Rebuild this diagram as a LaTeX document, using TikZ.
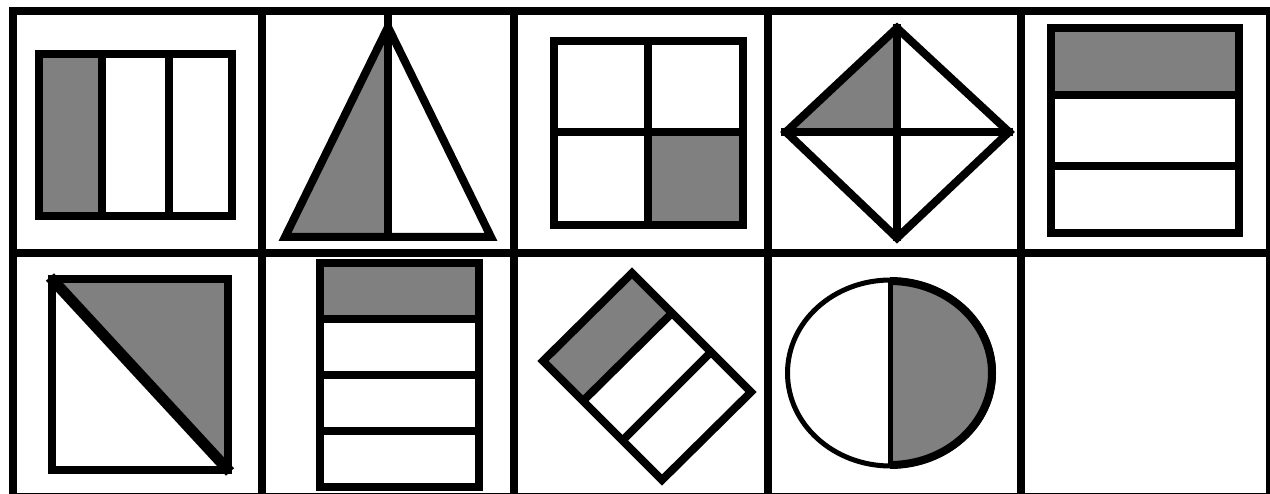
\documentclass[tikz,border=0pt]{standalone}
\begin{document}
\begin{tikzpicture}[x=1pt,y=-1pt,
  gridline/.style={line width=8pt,line cap=rect},
  outl/.style={line width=8pt,line join=miter},
  thinoutl/.style={line width=5pt},
  shade/.style={fill=gray}]
\useasboundingbox[fill=white] (0,0) rectangle (1270,494);
% ---------- row 1 ----------
% cell 1: three vertical strips
\fill[shade] (39,54) rectangle (102,216);
\draw[outl] (39,54) rectangle (232,216);
\draw[outl] (102,54) -- (102,216);
\draw[outl] (169,54) -- (169,216);
% cell 2: triangle split vertically
\fill[shade] (388,27) -- (285,237) -- (388,237) -- cycle;
\draw[outl] (388,27) -- (491,237) -- (285,237) -- cycle;
\draw[outl] (388,15) -- (388,241);
% cell 3: square in quarters
\fill[shade] (648,132) rectangle (743,225);
\draw[outl] (554,41) rectangle (743,225);
\draw[outl] (648,41) -- (648,225);
\draw[outl] (554,132) -- (743,132);
% cell 4: diamond in quarters
\fill[shade] (786,132) -- (897,28) -- (897,132) -- cycle;
\draw[outl] (786,132) -- (897,28) -- (1009,132) -- (897,238) -- cycle;
\draw[outl] (897,24) -- (897,241);
\draw[outl] (781,132) -- (1013,132);
% cell 5: three horizontal strips
\fill[shade] (1051,28) rectangle (1239,95);
\draw[outl] (1051,28) rectangle (1239,233);
\draw[outl] (1051,95) -- (1239,95);
\draw[outl] (1051,166) -- (1239,166);
% ---------- row 2 ----------
% cell 1: rectangle with diagonal
\fill[shade] (52,279) -- (228,279) -- (228,470) -- cycle;
\draw[outl] (52,279) rectangle (228,470);
\draw[line width=11pt] (50,277) -- (230,472);
% cell 2: four horizontal strips
\fill[shade] (320,263) rectangle (479,319);
\draw[outl] (320,263) rectangle (479,487);
\draw[outl] (320,319) -- (479,319);
\draw[outl] (320,375) -- (479,375);
\draw[outl] (320,431) -- (479,431);
% cell 3: tilted rectangle in three strips
\fill[shade] (632,273) -- (543,361) -- (583,401) -- (672,313) -- cycle;
\draw[outl] (632,273) -- (751,392) -- (662,480) -- (543,361) -- cycle;
\draw[outl] (672,313) -- (583,401);
\draw[outl] (711,352) -- (623,440);
% cell 4: ellipse halved
\fill[shade] (890,281) arc[start angle=90,end angle=-90,x radius=102pt,y radius=92pt] -- cycle;
\draw[thinoutl] (890.5,373) ellipse[x radius=103pt,y radius=93pt];
\draw[outl] (890,281) arc[start angle=90,end angle=-90,x radius=102pt,y radius=92pt];
\draw[thinoutl] (890,279) -- (890,467);
% ---------- grid ----------
\draw[gridline] (13,11) rectangle (1270,497);
\draw[gridline] (13,253) -- (1270,253);
\foreach \gx in {262,514,768,1021}
  \draw[gridline] (\gx,11) -- (\gx,497);
\end{tikzpicture}
\end{document}
